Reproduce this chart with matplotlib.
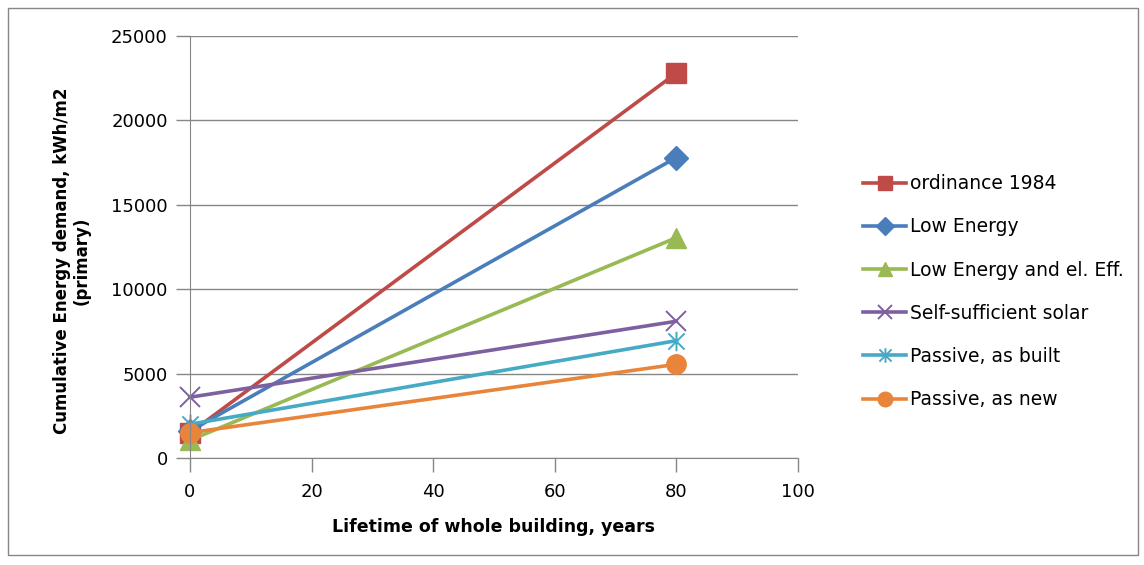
import matplotlib.pyplot as plt
from matplotlib.patches import Rectangle
from matplotlib.path import Path

plt.rcParams['font.family'] = ['DejaVu Sans']

# lifetime in years
years = [0, 80]

# cumulative primary energy demand, kWh/m2
ordinance_1984 = [1480, 22800]
low_energy = [1600, 17800]
low_energy_el = [1050, 13050]
self_solar = [3600, 8100]
passive_built = [2000, 6950]
passive_new = [1500, 5550]

series_names = ["ordinance 1984", "Low Energy", "Low Energy and el. Eff.",
                "Self-sufficient solar", "Passive, as built", "Passive, as new"]
series_values = [ordinance_1984, low_energy, low_energy_el,
                 self_solar, passive_built, passive_new]

x_ticks = [0, 20, 40, 60, 80, 100]
y_ticks = [0, 5000, 10000, 15000, 20000, 25000]

# asterisk-style marker: x plus a vertical stroke
star = Path([(-1, -1), (1, 1), (-1, 1), (1, -1), (0, -1.2), (0, 1.2)],
            [Path.MOVETO, Path.LINETO, Path.MOVETO, Path.LINETO,
             Path.MOVETO, Path.LINETO])

colors = ["#BE4B48", "#4A7EBB", "#98B954", "#7D60A0", "#46AAC5", "#E9853B"]
markers = ["s", "D", "^", "x", star, "o"]
msizes = [14, 12, 14, 14, 14, 14]

fig = plt.figure(figsize=(11.44, 5.65), dpi=100)
ax = fig.add_axes([0.166, 0.1894, 0.5315, 0.7469])

for name, vals, c, m, ms in zip(series_names, series_values, colors, markers, msizes):
    if isinstance(m, Path) or m == "x":
        ax.plot(years, vals, color=c, lw=2.6, marker=m, markersize=ms,
                markerfacecolor="none", markeredgewidth=1.4, label=name,
                clip_on=False)
    else:
        ax.plot(years, vals, color=c, lw=2.6, marker=m, markersize=ms,
                markeredgecolor=c, label=name, clip_on=False)

ax.set_xlim(0, 100)
ax.set_ylim(0, 25000)
ax.set_xticks(x_ticks)
ax.set_yticks(y_ticks)
ax.grid(axis="y", color="#868686", lw=1)
ax.set_axisbelow(True)

for side in ("top", "right"):
    ax.spines[side].set_visible(False)
for side in ("left", "bottom"):
    ax.spines[side].set_color("#868686")
ax.tick_params(axis="both", colors="#868686", length=10, width=1,
               labelsize=13, labelcolor="black")
ax.tick_params(axis="x", pad=8)
ax.tick_params(axis="y", pad=6)

ax.set_xlabel("Lifetime of whole building, years", fontsize=12.5,
              fontweight="bold", labelpad=12)
ax.set_ylabel("Cumulative Energy demand, kWh/m2\n(primary)", fontsize=12,
              fontweight="bold", linespacing=1.05)
ax.yaxis.set_label_coords(-0.164, 0.467)

leg = ax.legend(loc="upper left", bbox_to_anchor=(1.095, 0.69), frameon=False,
                fontsize=13.5, handlelength=2.3, handletextpad=0.2,
                labelspacing=1.29, borderaxespad=0, markerscale=0.75)

# chart frame
fig.patches.append(Rectangle((8 / 1144, 10 / 565), 1130 / 1144, 547 / 565,
                             transform=fig.transFigure, fill=False,
                             edgecolor="#868686", lw=1))

fig.savefig("out.png", dpi=100)
